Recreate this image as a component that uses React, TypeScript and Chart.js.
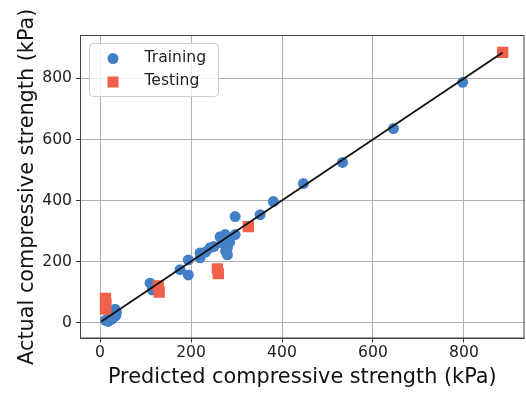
import React, { useEffect, useRef } from 'react';
import { Chart, registerables } from 'chart.js';

Chart.register(...registerables);

const trainPredicted = [12, 18, 25, 30, 35, 36, 33, 28, 20, 15, 115, 118, 110, 176, 194, 194, 220, 220, 232, 242, 250, 264, 275, 268, 280, 280, 276, 285, 297, 297, 352, 381, 447, 533, 645, 797];
const trainActual = [8, 5, 12, 18, 25, 35, 45, 30, 15, 10, 108, 122, 130, 174, 157, 206, 213, 229, 232, 246, 250, 282, 289, 262, 246, 223, 235, 265, 348, 289, 354, 397, 456, 525, 636, 787];
const testPredicted = [12, 13, 12, 128, 130, 258, 260, 326, 885];
const testActual = [80, 62, 45, 121, 101, 177, 161, 315, 885];
const fitPredicted = [3, 885];
const fitActual = [5, 885];
const xTickValues = [0, 200, 400, 600, 800];
const yTickValues = [0, 200, 400, 600, 800];
const seriesNames = ['Training', 'Testing'];

const BLUE = '#4480c8';
const RED = '#f0604a';
const FONT = "'DejaVu Sans', sans-serif";

const framePlugin = {
  id: 'frame',
  afterDatasetsDraw(chart: any) {
    const { ctx, chartArea } = chart;
    ctx.save();
    ctx.strokeStyle = '#444444';
    ctx.lineWidth = 1;
    ctx.strokeRect(chartArea.left + 0.5, chartArea.top + 0.5, chartArea.right - chartArea.left - 1, chartArea.bottom - chartArea.top - 1);
    ctx.restore();
  },
};

const legendPlugin = {
  id: 'boxLegend',
  afterDraw(chart: any) {
    const { ctx, chartArea } = chart;
    const x = chartArea.left + 9.5;
    const y = chartArea.top + 8.5;
    const w = 129;
    const h = 53;
    const r = 4;
    ctx.save();
    ctx.beginPath();
    ctx.moveTo(x + r, y);
    ctx.lineTo(x + w - r, y);
    ctx.quadraticCurveTo(x + w, y, x + w, y + r);
    ctx.lineTo(x + w, y + h - r);
    ctx.quadraticCurveTo(x + w, y + h, x + w - r, y + h);
    ctx.lineTo(x + r, y + h);
    ctx.quadraticCurveTo(x, y + h, x, y + h - r);
    ctx.lineTo(x, y + r);
    ctx.quadraticCurveTo(x, y, x + r, y);
    ctx.closePath();
    ctx.fillStyle = 'rgba(255,255,255,0.8)';
    ctx.fill();
    ctx.strokeStyle = '#cccccc';
    ctx.lineWidth = 1;
    ctx.stroke();

    const mx = x + 23.5;
    const y1 = y + 15;
    const y2 = y + 38.5;
    ctx.fillStyle = BLUE;
    ctx.beginPath();
    ctx.arc(mx, y1, 5.5, 0, Math.PI * 2);
    ctx.fill();
    ctx.fillStyle = RED;
    ctx.fillRect(mx - 5.5, y2 - 5.5, 11, 11);

    ctx.fillStyle = '#222222';
    ctx.font = `15.6px ${FONT}`;
    ctx.textBaseline = 'middle';
    ctx.textAlign = 'left';
    ctx.fillText(seriesNames[0], x + 55, y1 - 1);
    ctx.fillText(seriesNames[1], x + 55, y2 - 1);
    ctx.restore();
  },
};

export default function App() {
  const canvasRef = useRef<HTMLCanvasElement | null>(null);

  useEffect(() => {
    document.body.style.margin = '0';
    const canvas = canvasRef.current;
    if (!canvas) return;
    const toPoints = (xs: number[], ys: number[]) => xs.map((v, i) => ({ x: v, y: ys[i] }));

    const chart = new Chart(canvas, {
      type: 'scatter',
      data: {
        datasets: [
          {
            type: 'line',
            label: 'fit',
            data: toPoints(fitPredicted, fitActual),
            borderColor: '#111111',
            borderWidth: 1.8,
            pointRadius: 0,
            fill: false,
            order: 0,
          } as any,
          {
            label: seriesNames[1],
            data: toPoints(testPredicted, testActual),
            backgroundColor: RED,
            borderColor: RED,
            borderWidth: 0,
            pointStyle: 'rect',
            pointRadius: 8,
            order: 1,
          },
          {
            label: seriesNames[0],
            data: toPoints(trainPredicted, trainActual),
            backgroundColor: BLUE,
            borderColor: BLUE,
            borderWidth: 0,
            pointStyle: 'circle',
            pointRadius: 5.5,
            order: 2,
          },
        ],
      },
      options: {
        responsive: false,
        animation: false,
        layout: { autoPadding: false, padding: { top: 35, right: 1.5, left: 0, bottom: 0 } },
        plugins: {
          legend: { display: false },
          tooltip: { enabled: false },
        },
        scales: {
          x: {
            type: 'linear',
            min: -44,
            max: 933,
            afterFit: (s: any) => { s.height = 55.5; s.paddingLeft = 0; s.paddingRight = 0; },
            afterBuildTicks: (s: any) => { s.ticks = xTickValues.map((v) => ({ value: v })); },
            grid: { color: '#b0b0b0', lineWidth: 1, tickColor: '#333333', tickLength: 4, drawTicks: true },
            border: { display: true, color: '#444444' },
            ticks: { color: '#222222', font: { family: FONT, size: 15.6 }, padding: 1 },
            title: { display: true, text: 'Predicted compressive strength (kPa)', color: '#111111', font: { family: FONT, size: 20.8 }, padding: { top: 0, bottom: 4 } },
          },
          y: {
            type: 'linear',
            min: -51,
            max: 942,
            afterFit: (s: any) => { s.width = 80; s.paddingTop = 0; s.paddingBottom = 0; },
            afterBuildTicks: (s: any) => { s.ticks = yTickValues.map((v) => ({ value: v })); },
            grid: { color: '#b0b0b0', lineWidth: 1, tickColor: '#333333', tickLength: 4, drawTicks: true },
            border: { display: true, color: '#444444' },
            ticks: { color: '#222222', font: { family: FONT, size: 15.6 }, padding: 4 },
            title: { display: true, text: 'Actual compressive strength (kPa)', color: '#111111', font: { family: FONT, size: 20.8 }, padding: { top: 15, bottom: 0 } },
          },
        },
      },
      plugins: [framePlugin, legendPlugin],
    });
    return () => chart.destroy();
  }, []);

  return (
    <div style={{ position: 'fixed', left: 0, top: 0, width: 526, height: 394, background: '#ffffff' }}>
      <canvas ref={canvasRef} width={526} height={394} style={{ width: 526, height: 394 }} />
    </div>
  );
}
